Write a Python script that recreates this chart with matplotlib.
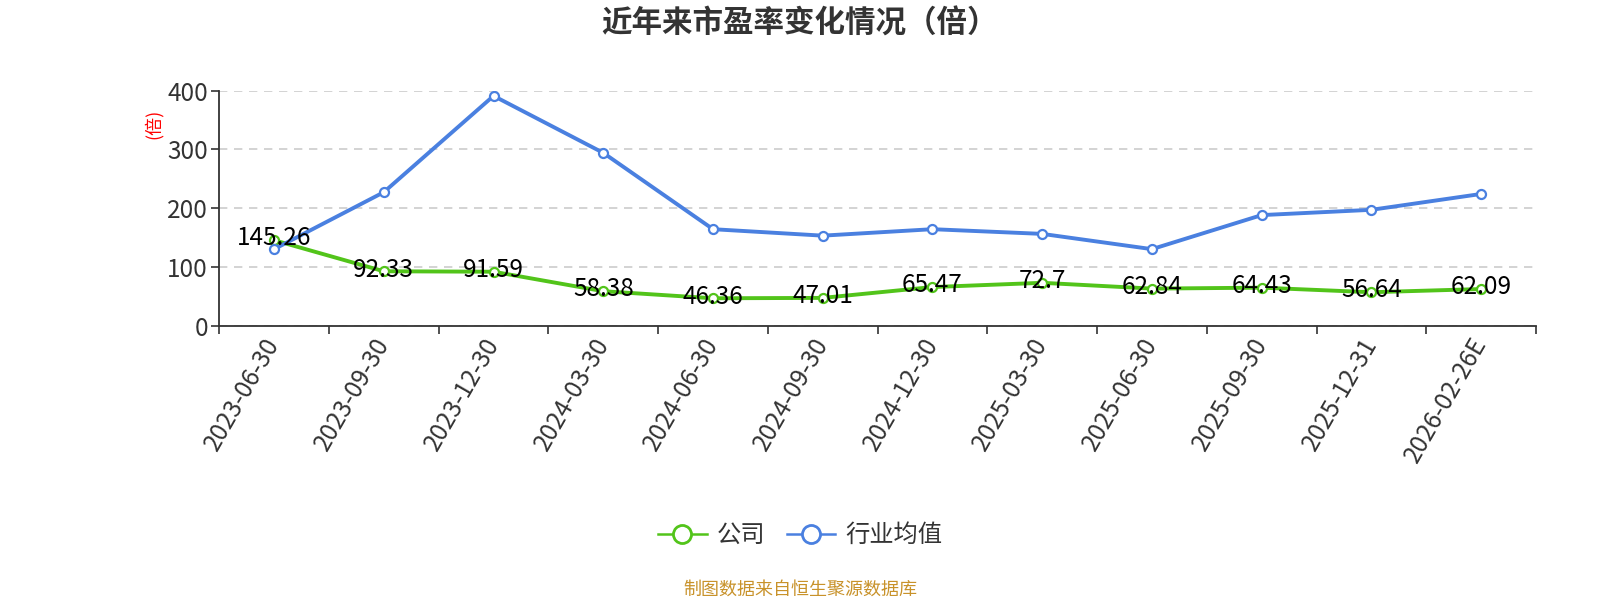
import matplotlib
matplotlib.use("Agg")
import matplotlib.pyplot as plt
from matplotlib.ticker import FixedLocator
from matplotlib.lines import Line2D

plt.rcParams['font.family'] = ['Noto Sans CJK SC', 'DejaVu Sans']

# data
dates = ['2023-06-30', '2023-09-30', '2023-12-30', '2024-03-30', '2024-06-30', '2024-09-30',
         '2024-12-30', '2025-03-30', '2025-06-30', '2025-09-30', '2025-12-31', '2026-02-26E']
company = [145.26, 92.33, 91.59, 58.38, 46.36, 47.01, 65.47, 72.7, 62.84, 64.43, 56.64, 62.09]
industry = [130, 227, 391, 294, 164, 153, 164, 156, 130, 188, 197, 224]

green = '#52c41a'
blue = '#4a80e0'

fig = plt.figure(figsize=(16, 6), dpi=100)
ax = fig.add_axes([0.137, 0.4575, 0.823, 0.3915])

x = list(range(len(dates)))
ax.plot(x, company, color=green, lw=2.8, marker='o', ms=6.5, mfc='white', mec=green,
        mew=1.6, zorder=3)
ax.plot(x, industry, color=blue, lw=2.8, marker='o', ms=6.5, mfc='white', mec=blue,
        mew=1.6, zorder=4)

# value labels for the company line
for xi, v in zip(x, company):
    ax.text(xi, v + 3, f'{v:g}', ha='center', va='center', fontsize=17.5, color='black', zorder=6)

ax.set_xlim(-0.5, len(dates) - 0.5)
ax.set_ylim(0, 400)
ax.set_yticks([0, 100, 200, 300, 400])
ax.yaxis.grid(True, linestyle=(0, (5, 4)), color='#cccccc', lw=1.2)
ax.set_axisbelow(True)

ax.set_xticks(x)
ax.set_xticklabels(dates, rotation=60, ha='right', va='center', rotation_mode='anchor')
ax.xaxis.set_minor_locator(FixedLocator([i - 0.5 for i in range(len(dates) + 1)]))
ax.tick_params(axis='x', which='major', length=0, pad=10, labelsize=17.5, labelcolor='#333333')
ax.tick_params(axis='x', which='minor', length=6, width=1.2, color='#333333')
ax.tick_params(axis='y', length=6, width=1.2, color='#333333', labelsize=17.5,
               labelcolor='#333333', pad=2)

for s in ['top', 'right']:
    ax.spines[s].set_visible(False)
for s in ['left', 'bottom']:
    ax.spines[s].set_color('#333333')
    ax.spines[s].set_linewidth(1.3)

ax.set_ylabel('(倍)', color='red', fontsize=13)
ax.yaxis.set_label_coords(-0.043, 0.857)

fig.suptitle('近年来市盈率变化情况（倍）', x=0.5, y=0.988, fontsize=22, fontweight='bold',
             color='#333333', va='top')

handles = [Line2D([], [], color=green, lw=1.8, marker='o', ms=13, mfc='white', mec=green, mew=2),
           Line2D([], [], color=blue, lw=1.8, marker='o', ms=13, mfc='white', mec=blue, mew=2)]
fig.legend(handles=handles, labels=['公司', '行业均值'], loc='center',
           bbox_to_anchor=(0.5, 0.108), ncol=2, frameon=False, fontsize=17.5,
           handlelength=2.0, columnspacing=0.9, handletextpad=0.4,
           labelcolor='#333333')

fig.text(0.5, 0.018, '制图数据来自恒生聚源数据库', ha='center', va='center', fontsize=13,
         color='#c8922a')

fig.savefig('out.png', dpi=100, facecolor='white')
